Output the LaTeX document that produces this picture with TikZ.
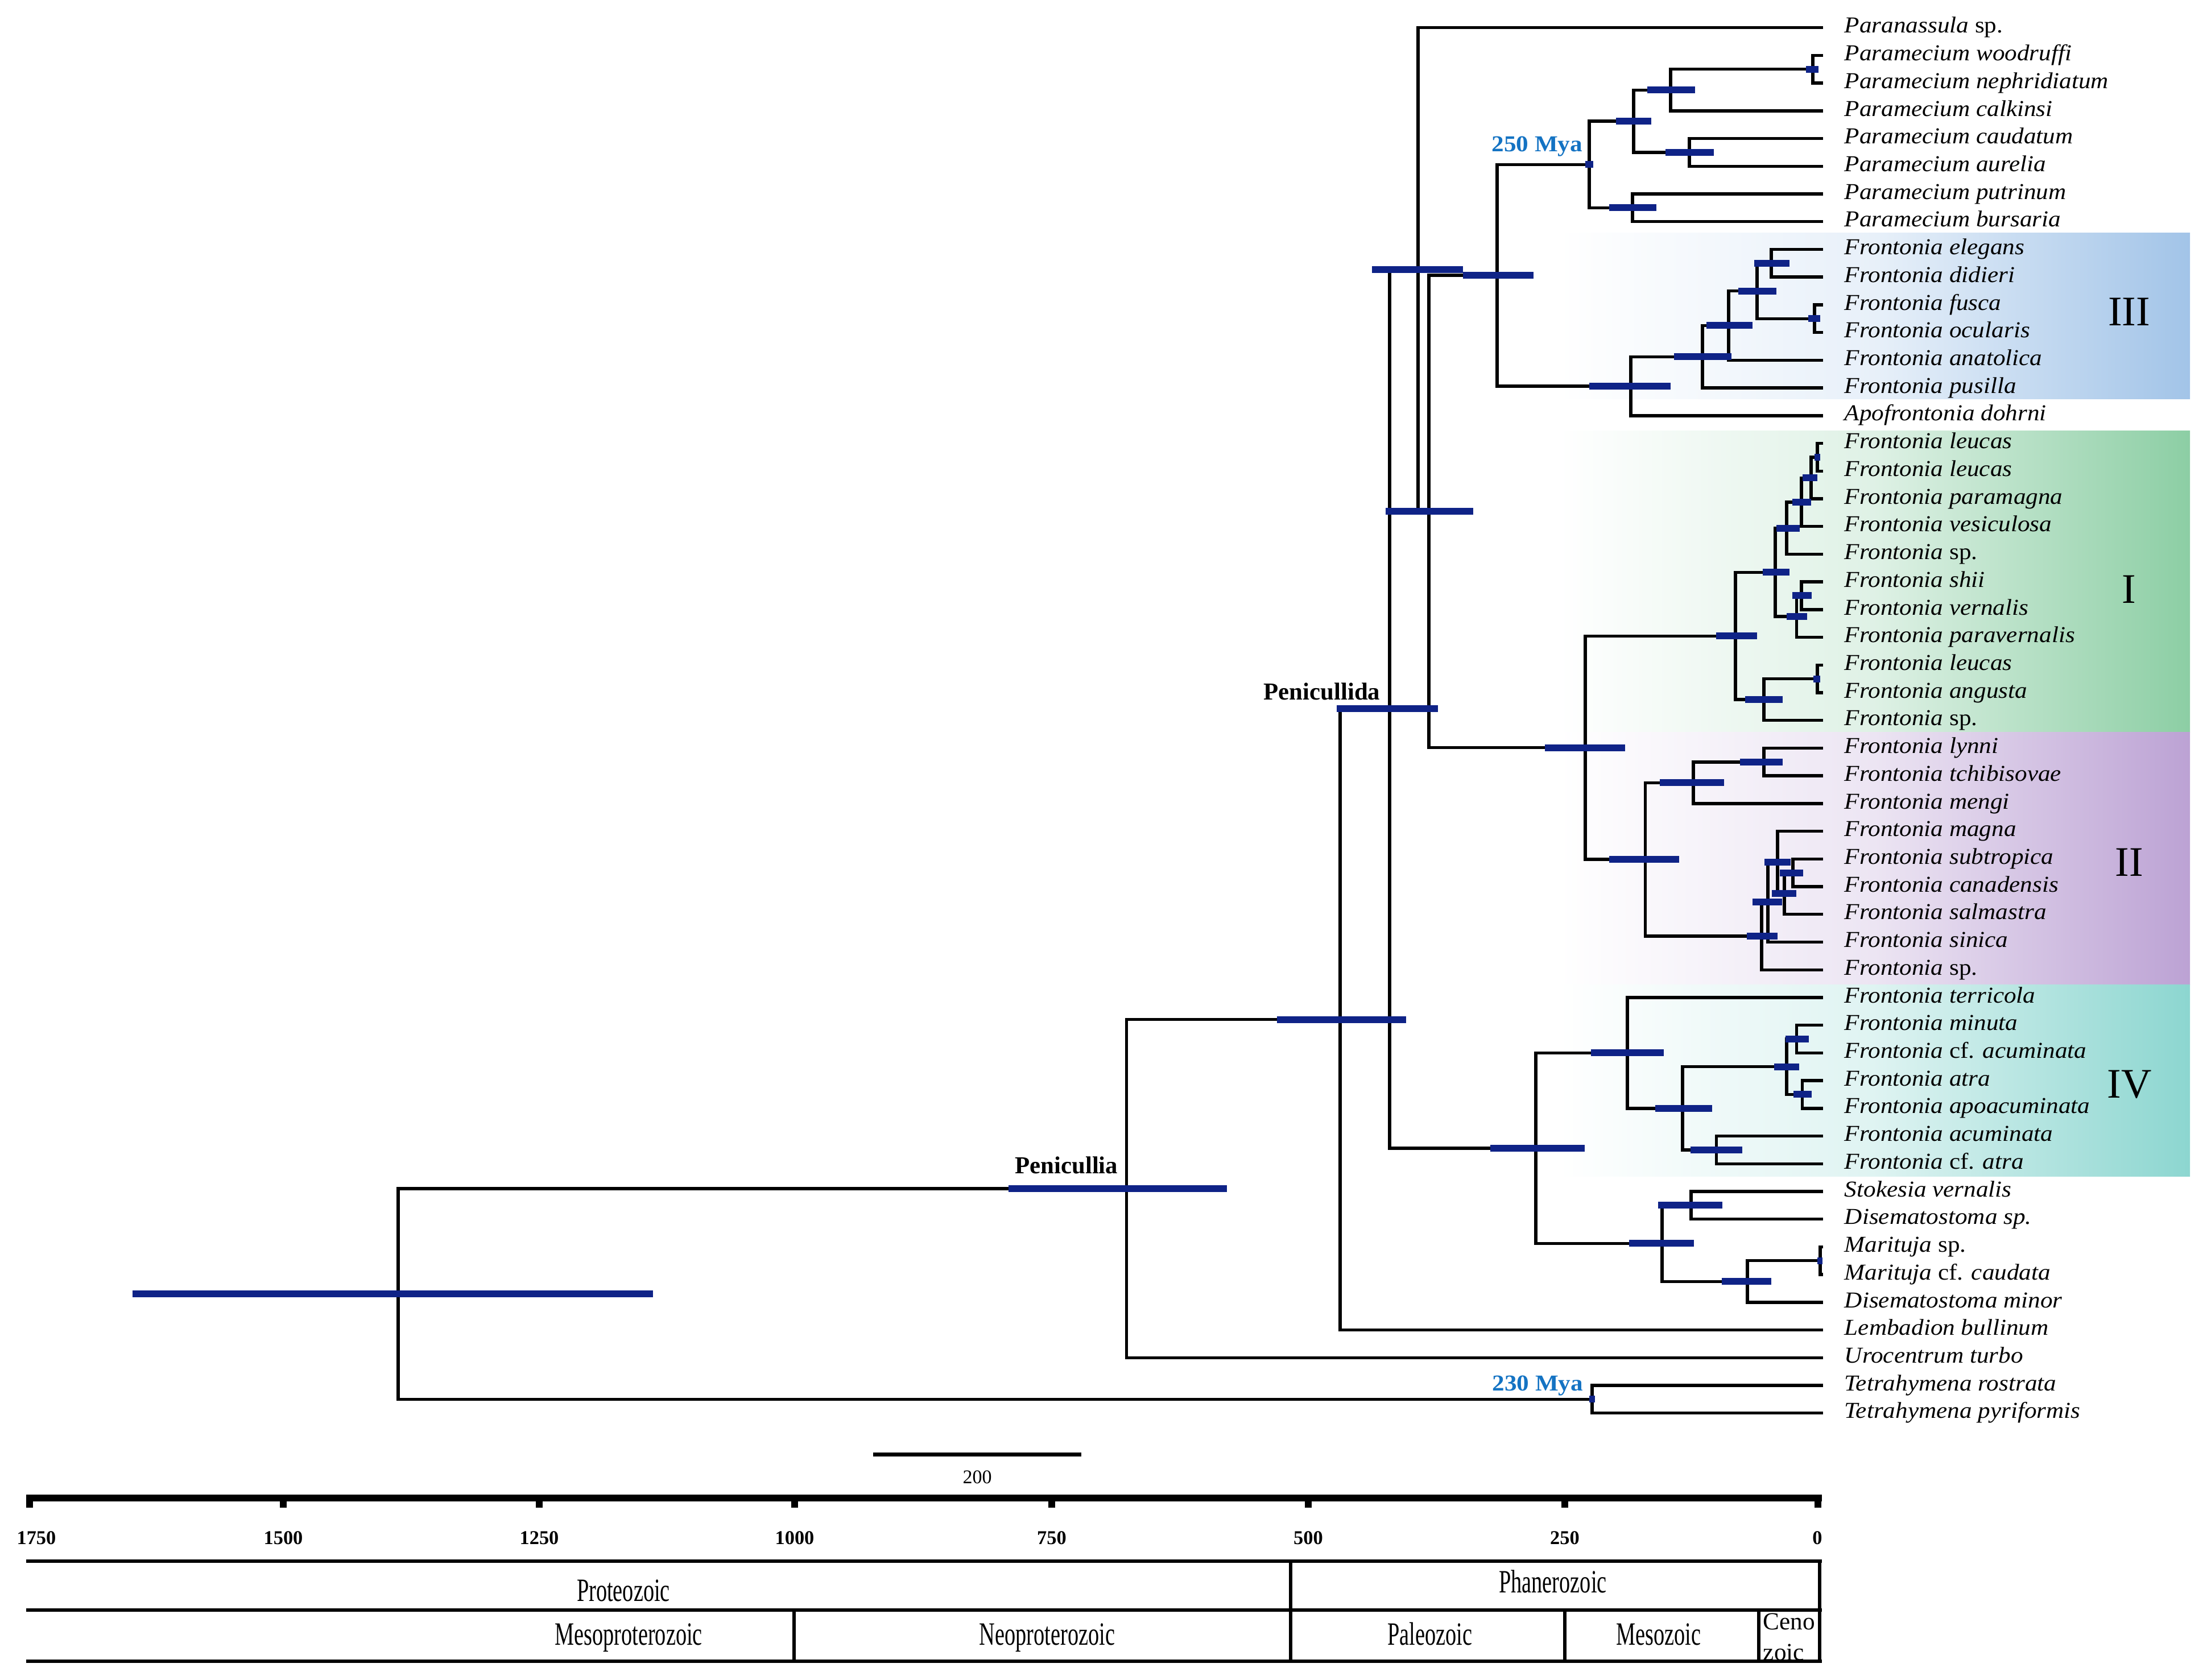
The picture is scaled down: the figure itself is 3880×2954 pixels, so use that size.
\documentclass[tikz,border=0pt]{standalone}
\usepackage{fontspec}
\usepackage{graphicx}
\setmainfont{Liberation Serif}
\newfontfamily\taxf{Liberation Serif}[FakeStretch=1.08]
\newfontfamily\geof{Liberation Serif}[FakeStretch=0.67]
\definecolor{hpdc}{RGB}{15,35,135}
\definecolor{myac}{RGB}{20,115,195}
\definecolor{cIII}{RGB}{162,196,232}
\definecolor{cI}{RGB}{140,206,164}
\definecolor{cII}{RGB}{188,162,212}
\definecolor{cIV}{RGB}{140,214,208}
\tikzset{
  br/.style={line width=1.35pt, black},
  hpd/.style={line width=3pt, hpdc},
  tax/.style={inner sep=0pt, anchor=mid west, font=\taxf\fontsize{10}{12}\selectfont},
  mya/.style={inner sep=0pt, anchor=base east, text=myac, font=\taxf\bfseries\fontsize{10}{12}\selectfont},
  clade/.style={inner sep=0pt, anchor=base east, font=\bfseries\fontsize{10.7}{12}\selectfont},
  roman/.style={inner sep=0pt, anchor=center, font=\fontsize{18.5}{20}\selectfont},
  ticklab/.style={inner sep=0pt, anchor=base, font=\bfseries\fontsize{8.6}{10}\selectfont},
  sblab/.style={inner sep=0pt, anchor=base, font=\fontsize{8.5}{10}\selectfont},
  geo/.style={inner sep=0pt, anchor=base, font=\geof\fontsize{14.3}{16}\selectfont},
  ceno/.style={inner sep=0pt, anchor=base west, font=\fontsize{10.8}{12}\selectfont},
  axisline/.style={line width=3pt, black},
  tickline/.style={line width=3pt, black},
  tabline/.style={line width=1.5pt, black},
  sbar/.style={line width=1.75pt, black},
  band/.style={draw=none}
}
\newcommand\hpd[3]{\draw[hpd] (#2,0 |- #1) -- (#3,0 |- #1);}
\newcommand\tl[2]{\node[tax] (l#1) at ([xshift=9.25pt]t#1) {#2};}
\begin{document}
\begin{tikzpicture}[x=0.25pt, y=-0.25pt]
\useasboundingbox (0,0) rectangle (3880,2954);
% clade bands
\shade[band, left color=white, right color=cIII, middle color=cIII!25] (2740,410) rectangle (3850,701);
\shade[band, left color=white, right color=cI, middle color=cI!28] (2740,757) rectangle (3850,1287);
\shade[band, left color=white, right color=cII, middle color=cII!28] (2740,1287) rectangle (3850,1731);
\shade[band, left color=white, right color=cIV, middle color=cIV!28] (2740,1731) rectangle (3850,2068);
\node[roman] (rIII) at (3743,548) {III};
\node[roman] (rI) at (3743,1036) {I};
\node[roman] (rII) at (3743,1516) {II};
\node[roman] (rIV) at (3744,1907) {IV};

\begin{scope}[y=-12.18pt]
\foreach \i in {1,...,51} \coordinate (t\i) at (3205,\i);
\coordinate (A1) at (3187,2.5);
\coordinate (A2) at (2937,3.25);
\coordinate (A3) at (2970,5.5);
\coordinate (A4) at (2872,4.375);
\coordinate (A5) at (2870,7.5);
\coordinate (A6) at (2794,5.9375);
\coordinate (B1) at (3114,9.5);
\coordinate (B2) at (3190,11.5);
\coordinate (B3) at (3089,10.5);
\coordinate (B4) at (3039,11.75);
\coordinate (B5) at (2993,12.875);
\coordinate (B6) at (2867,13.9375);
\coordinate (N5) at (2632,9.9375);
\coordinate (C1) at (3195,16.5);
\coordinate (C2) at (3184,17.25);
\coordinate (C3) at (3167,18.125);
\coordinate (C4) at (3141,19.0625);
\coordinate (C5) at (3167,21.5);
\coordinate (C6) at (3158.5,22.25);
\coordinate (C7) at (3121,20.65625);
\coordinate (C8) at (3195,24.5);
\coordinate (C9) at (3101,25.25);
\coordinate (C10) at (3051,22.953125);
\coordinate (D1) at (3101,27.5);
\coordinate (D2) at (2977,28.25);
\coordinate (D3) at (3152,31.5);
\coordinate (D4) at (3137,32.25);
\coordinate (D5) at (3125,31.125);
\coordinate (D6) at (3108,32.5625);
\coordinate (D7) at (3097,33.78125);
\coordinate (D8) at (2892.5,31.015625);
\coordinate (CD) at (2787,26.984375);
\coordinate (N1) at (2512,18.4609);
\coordinate (N2) at (2493,9.7305);
\coordinate (E1) at (3158.5,37.5);
\coordinate (E2) at (3168.6,39.5);
\coordinate (E3) at (3141,38.5);
\coordinate (E4) at (3017.5,41.5);
\coordinate (E5) at (2958,40);
\coordinate (E6) at (2861,38);
\coordinate (F1) at (2973,43.5);
\coordinate (F2) at (3200,45.5);
\coordinate (F3) at (3072,46.25);
\coordinate (F4) at (2922,44.875);
\coordinate (EF) at (2700,41.4375);
\coordinate (N3) at (2443,25.584);
\coordinate (N4) at (2356,36.792);
\coordinate (P) at (1980.6,42.896);
\coordinate (T) at (2799,50.5);
\coordinate (R) at (700,46.698);
% branches
\draw[br] (t2) -| (A1) |- (t3);
\draw[br] (A1) -| (A2) |- (t4);
\draw[br] (t5) -| (A3) |- (t6);
\draw[br] (A2) -| (A4) |- (A3);
\draw[br] (t7) -| (A5) |- (t8);
\draw[br] (A4) -| (A6) |- (A5);
\draw[br] (t9) -| (B1) |- (t10);
\draw[br] (t11) -| (B2) |- (t12);
\draw[br] (B1) -| (B3) |- (B2);
\draw[br] (B3) -| (B4) |- (t13);
\draw[br] (B4) -| (B5) |- (t14);
\draw[br] (B5) -| (B6) |- (t15);
\draw[br] (A6) -| (N5) |- (B6);
\draw[br] (t16) -| (C1) |- (t17);
\draw[br] (C1) -| (C2) |- (t18);
\draw[br] (C2) -| (C3) |- (t19);
\draw[br] (C3) -| (C4) |- (t20);
\draw[br] (t21) -| (C5) |- (t22);
\draw[br] (C5) -| (C6) |- (t23);
\draw[br] (C4) -| (C7) |- (C6);
\draw[br] (t24) -| (C8) |- (t25);
\draw[br] (C8) -| (C9) |- (t26);
\draw[br] (C7) -| (C10) |- (C9);
\draw[br] (t27) -| (D1) |- (t28);
\draw[br] (D1) -| (D2) |- (t29);
\draw[br] (t31) -| (D3) |- (t32);
\draw[br] (D3) -| (D4) |- (t33);
\draw[br] (t30) -| (D5) |- (D4);
\draw[br] (D5) -| (D6) |- (t34);
\draw[br] (D6) -| (D7) |- (t35);
\draw[br] (D2) -| (D8) |- (D7);
\draw[br] (C10) -| (CD) |- (D8);
\draw[br] (N5) -| (N1) |- (CD);
\draw[br] (t1) -| (N2) |- (N1);
\draw[br] (t37) -| (E1) |- (t38);
\draw[br] (t39) -| (E2) |- (t40);
\draw[br] (E1) -| (E3) |- (E2);
\draw[br] (t41) -| (E4) |- (t42);
\draw[br] (E3) -| (E5) |- (E4);
\draw[br] (t36) -| (E6) |- (E5);
\draw[br] (t43) -| (F1) |- (t44);
\draw[br] (t45) -| (F2) |- (t46);
\draw[br] (F2) -| (F3) |- (t47);
\draw[br] (F1) -| (F4) |- (F3);
\draw[br] (E6) -| (EF) |- (F4);
\draw[br] (N2) -| (N3) |- (EF);
\draw[br] (N3) -| (N4) |- (t48);
\draw[br] (N4) -| (P) |- (t49);
\draw[br] (t50) -| (T) |- (t51);
\draw[br] (P) -| (R) |- (T);
% HPD bars
\hpd{A1}{3175}{3197} \hpd{A2}{2896}{2980} \hpd{A3}{2928}{3013}
\hpd{A4}{2841}{2903} \hpd{A5}{2829}{2912} \hpd{A6}{2787}{2801}
\hpd{B1}{3084}{3146} \hpd{B2}{3179}{3200} \hpd{B3}{3056}{3123}
\hpd{B4}{3000}{3081} \hpd{B5}{2943}{3044} \hpd{B6}{2794}{2937}
\hpd{N5}{2572}{2696}
\hpd{C1}{3190}{3200} \hpd{C2}{3169}{3195} \hpd{C3}{3151}{3184}
\hpd{C4}{3123}{3164} \hpd{C5}{3151}{3185} \hpd{C6}{3141}{3177}
\hpd{C7}{3099}{3146} \hpd{C8}{3188}{3200} \hpd{C9}{3068}{3134}
\hpd{C10}{3017}{3089}
\hpd{D1}{3059}{3134} \hpd{D2}{2918}{3031} \hpd{D3}{3129}{3170}
\hpd{D4}{3115}{3158} \hpd{D5}{3102}{3148} \hpd{D6}{3081}{3133}
\hpd{D7}{3071}{3125} \hpd{D8}{2829}{2952} \hpd{CD}{2716}{2857}
\hpd{N1}{2436}{2590} \hpd{N2}{2412}{2572}
\hpd{E1}{3139}{3180} \hpd{E2}{3153}{3185} \hpd{E3}{3119}{3163}
\hpd{E4}{2972}{3063} \hpd{E5}{2910}{3010} \hpd{E6}{2797}{2925}
\hpd{F1}{2915}{3028} \hpd{F2}{3195}{3204} \hpd{F3}{3027}{3114}
\hpd{F4}{2864}{2978} \hpd{EF}{2620}{2786}
\hpd{N3}{2350}{2528} \hpd{N4}{2245}{2472} \hpd{P}{1773}{2157}
\hpd{T}{2794}{2804} \hpd{R}{233}{1148}
% node labels
\node[mya] (m250) at ([xshift=-2.75pt,yshift=5.75pt]A6) {250 Mya};
\node[mya] (m230) at ([xshift=-3.75pt,yshift=3.75pt]T) {230 Mya};
\node[clade] (cPda) at ([xshift=-4pt,yshift=4pt]N3) {Penicullida};
\node[clade] (cPia) at ([xshift=-3.65pt,yshift=6.5pt]P) {Penicullia};
% tip labels
\tl{1}{\textit{Paranassula} sp.}
\tl{2}{\textit{Paramecium woodruffi}}
\tl{3}{\textit{Paramecium nephridiatum}}
\tl{4}{\textit{Paramecium calkinsi}}
\tl{5}{\textit{Paramecium caudatum}}
\tl{6}{\textit{Paramecium aurelia}}
\tl{7}{\textit{Paramecium putrinum}}
\tl{8}{\textit{Paramecium bursaria}}
\tl{9}{\textit{Frontonia elegans}}
\tl{10}{\textit{Frontonia didieri}}
\tl{11}{\textit{Frontonia fusca}}
\tl{12}{\textit{Frontonia ocularis}}
\tl{13}{\textit{Frontonia anatolica}}
\tl{14}{\textit{Frontonia pusilla}}
\tl{15}{\textit{Apofrontonia dohrni}}
\tl{16}{\textit{Frontonia leucas}}
\tl{17}{\textit{Frontonia leucas}}
\tl{18}{\textit{Frontonia paramagna}}
\tl{19}{\textit{Frontonia vesiculosa}}
\tl{20}{\textit{Frontonia} sp.}
\tl{21}{\textit{Frontonia shii}}
\tl{22}{\textit{Frontonia vernalis}}
\tl{23}{\textit{Frontonia paravernalis}}
\tl{24}{\textit{Frontonia leucas}}
\tl{25}{\textit{Frontonia angusta}}
\tl{26}{\textit{Frontonia} sp.}
\tl{27}{\textit{Frontonia lynni}}
\tl{28}{\textit{Frontonia tchibisovae}}
\tl{29}{\textit{Frontonia mengi}}
\tl{30}{\textit{Frontonia magna}}
\tl{31}{\textit{Frontonia subtropica}}
\tl{32}{\textit{Frontonia canadensis}}
\tl{33}{\textit{Frontonia salmastra}}
\tl{34}{\textit{Frontonia sinica}}
\tl{35}{\textit{Frontonia} sp.}
\tl{36}{\textit{Frontonia terricola}}
\tl{37}{\textit{Frontonia minuta}}
\tl{38}{\textit{Frontonia} cf. \textit{acuminata}}
\tl{39}{\textit{Frontonia atra}}
\tl{40}{\textit{Frontonia apoacuminata}}
\tl{41}{\textit{Frontonia acuminata}}
\tl{42}{\textit{Frontonia} cf. \textit{atra}}
\tl{43}{\textit{Stokesia vernalis}}
\tl{44}{\textit{Disematostoma sp.}}
\tl{45}{\textit{Marituja} sp.}
\tl{46}{\textit{Marituja} cf. \textit{caudata}}
\tl{47}{\textit{Disematostoma minor}}
\tl{48}{\textit{Lembadion bullinum}}
\tl{49}{\textit{Urocentrum turbo}}
\tl{50}{\textit{Tetrahymena rostrata}}
\tl{51}{\textit{Tetrahymena pyriformis}}
\end{scope}

% scale bar
\draw[sbar] (1535,2557) -- (1901,2557);
\node[sblab] (s200) at (1718,2608) {200};
% time axis
\draw[axisline] (46,2634) -- (3203,2634);
\foreach \x in {52,498,948,1397,1849,2300,2751,3196} \draw[tickline] (\x,2634) -- (\x,2651);
\node[ticklab] (k1750) at (64,2715) {1750};
\node[ticklab] (k1500) at (498,2715) {1500};
\node[ticklab] (k1250) at (948,2715) {1250};
\node[ticklab] (k1000) at (1397,2715) {1000};
\node[ticklab] (k750) at (1849,2715) {750};
\node[ticklab] (k500) at (2300,2715) {500};
\node[ticklab] (k250) at (2751,2715) {250};
\node[ticklab] (k0) at (3195,2715) {0};
% geological table
\node[geo] (gProt) at (1096,2815) {Proteozoic};
\node[geo] (gPhan) at (2730,2800) {Phanerozoic};
\node[geo] (gMesoP) at (1105,2892) {Mesoproterozoic};
\node[geo] (gNeoP) at (1841,2892) {Neoproterozoic};
\node[geo] (gPal) at (2514,2892) {Paleozoic};
\node[geo] (gMes) at (2916,2892) {Mesozoic};
\node[ceno] (gCeno) at (3099,2865) {Ceno};
\node[ceno] (gZoic) at (3099,2919) {zoic};
\draw[tabline] (46,2744.5) -- (3203,2744.5);
\draw[tabline] (46,2830.5) -- (3203,2830.5);
\draw[tabline] (46,2921) -- (3203,2921);
\draw[tabline] (2269,2744.5) -- (2269,2921);
\draw[tabline] (3199,2744.5) -- (3199,2921);
\foreach \x in {1396,2751,3092} \draw[tabline] (\x,2830.5) -- (\x,2921);
\end{tikzpicture}
\end{document}
